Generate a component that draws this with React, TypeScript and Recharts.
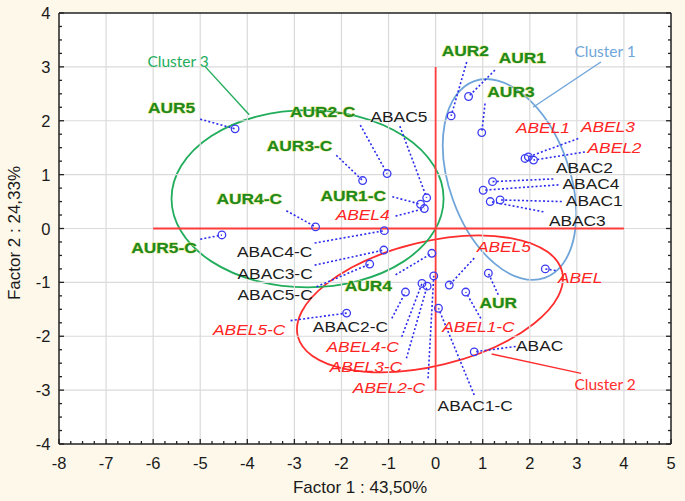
import React from "react";
import {
  ScatterChart,
  Scatter,
  XAxis,
  YAxis,
  CartesianGrid,
  ReferenceLine,
  ReferenceArea,
} from "recharts";

// ---- data ----
const sampleNames = [
  "AUR5", "AUR2-C", "AUR3-C", "ABAC5", "AUR1-C", "ABEL4", "AUR4-C", "AUR5-C",
  "ABAC4-C", "ABAC3-C", "ABAC5-C", "AUR4", "ABEL5-C", "ABAC2-C", "ABEL4-C", "ABEL3-C",
  "ABEL2-C", "ABAC1-C", "ABEL5", "ABEL1-C", "AUR", "ABEL", "ABAC", "AUR2",
  "AUR1", "AUR3", "ABEL1", "ABEL3", "ABEL2", "ABAC2", "ABAC4", "ABAC1", "ABAC3",
];
const factor1 = [
  -4.26, -1.03, -1.55, -0.19, -0.32, -0.24, -2.55, -4.54,
  -1.09, -1.10, -1.40, -0.08, -1.89, -0.64, -0.29, -0.18,
  -0.04, 0.06, 0.29, 0.64, 1.12, 2.33, 0.82, 0.33,
  0.70, 0.98, 1.90, 1.97, 2.08, 1.21, 1.01, 1.37, 1.16,
];
const factor2 = [
  1.85, 1.02, 0.89, 0.57, 0.45, 0.37, 0.03, -0.12,
  -0.04, -0.40, -0.66, -0.46, -1.57, -1.18, -1.02, -1.07,
  -0.88, -1.48, -1.05, -1.18, -0.83, -0.75, -2.29, 2.09,
  2.45, 1.78, 1.30, 1.33, 1.27, 0.87, 0.71, 0.53, 0.50,
];
// label anchor (data units)
const labelF1 = [
  -5.61, -2.40, -2.89, -0.78, -1.75, -1.55, -3.96, -5.77,
  -3.42, -3.41, -3.41, -1.43, -3.96, -1.81, -1.55, -1.48,
  -0.99, 0.84, 1.45, 0.91, 1.33, 3.07, 2.21, 0.63,
  1.84, 1.60, 2.28, 3.66, 3.80, 3.16, 3.30, 3.37, 3.01,
];
const labelF2 = [
  2.24, 2.18, 1.55, 2.09, 0.62, 0.26, 0.56, -0.35,
  -0.43, -0.83, -1.22, -1.06, -1.87, -1.82, -2.18, -2.55,
  -2.95, -3.29, -0.34, -1.82, -1.37, -0.91, -2.16, 3.31,
  3.18, 2.54, 1.88, 1.89, 1.50, 1.14, 0.84, 0.53, 0.16,
];
// leader line start (data units)
const leaderF1 = [
  -5.00, -1.60, -2.11, -0.76, -0.92, -0.85, -3.17, -5.00,
  -2.57, -2.57, -2.53, -0.85, -3.08, -0.93, -0.72, -0.62,
  -0.16, 0.82, 0.82, 0.96, 1.33, 2.55, 1.70, 0.66,
  1.26, 1.05, 1.90, 3.03, 3.17, 2.50, 2.61, 2.68, 2.29,
];
const leaderF2 = [
  2.03, 1.92, 1.36, 1.90, 0.59, 0.23, 0.33, -0.20,
  -0.27, -0.68, -1.08, -0.86, -1.71, -1.67, -2.01, -2.41,
  -2.78, -3.09, -0.55, -1.67, -1.23, -0.78, -2.19, 3.09,
  2.94, 2.32, 1.30, 1.67, 1.42, 0.92, 0.81, 0.50, 0.31,
];

const clusterNames = ["Cluster 1", "Cluster 2", "Cluster 3"];
const clusterCenterF1 = [1.57, -0.12, -2.72];
const clusterCenterF2 = [0.91, -1.40, 0.553];
const clusterRadiusF1 = [1.277, 2.89, 2.89];
const clusterRadiusF2 = [1.94, 1.15, 1.645];
const clusterTilt = [-19.7, -13.7, 0];
const clusterLabelF1 = [3.6, 3.6, -5.47];
const clusterLabelF2 = [3.3, -2.88, 3.11];
const clusterPointerFromF1 = [3.51, 3.09, -4.89];
const clusterPointerFromF2 = [3.09, -2.69, 3.0];
const clusterPointerToF1 = [2.07, 1.19, -3.96];
const clusterPointerToF2 = [2.25, -2.33, 2.11];

const xTicks = [-8, -7, -6, -5, -4, -3, -2, -1, 0, 1, 2, 3, 4, 5];
const yTicks = [-4, -3, -2, -1, 0, 1, 2, 3, 4];
const quarters = (t: number[]) => {
  const out: number[] = [];
  for (let i = 0; i < t.length - 1; i++) {
    for (let k = 0; k < 4; k++) out.push(t[i] + (k * (t[i + 1] - t[i])) / 4);
  }
  out.push(t[t.length - 1]);
  return out;
};
const xMinor = quarters(xTicks);
const yMinor = quarters(yTicks);

// ---- styles ----
const FONT = "'Liberation Sans', Arial, sans-serif";
const clusterColors: Record<string, string> = {
  "Cluster 1": "#6fa5d9",
  "Cluster 2": "#ff2d2d",
  "Cluster 3": "#22ad5c",
};
const axisRed = "#ff3b3b";
const pointBlue = "#3a3af2";
const gridGray = "#dadada";

const points = sampleNames.map((name, i) => ({ name, x: factor1[i], y: factor2[i] }));
const labels = sampleNames.map((name, i) => ({ name, x: labelF1[i], y: labelF2[i] }));
const clusterLabels = clusterNames.map((name, i) => ({
  name,
  x: clusterLabelF1[i],
  y: clusterLabelF2[i],
}));

const PointShape = (p: any) => (
  <circle cx={p.cx} cy={p.cy} r={3.8} fill="none" stroke={pointBlue} strokeWidth={1.3} />
);

const SampleLabel = (p: any) => {
  const name: string = p.payload?.name ?? "";
  let style: any = { fill: "#1c1c1c" };
  if (name.startsWith("AUR"))
    style = {
      fill: "#1f8a1c",
      fontWeight: "bold",
      stroke: "#d6dc70",
      strokeWidth: 0.9,
      paintOrder: "stroke",
    };
  else if (name.startsWith("ABEL")) style = { fill: "#ff2424", fontStyle: "italic" };
  return (
    <text
      transform={`translate(${p.cx},${p.cy}) scale(1.12,1)`}
      x={0}
      y={0}
      textAnchor="middle"
      dominantBaseline="central"
      fontFamily={FONT}
      fontSize={15.5}
      {...style}
    >
      {name}
    </text>
  );
};

const ClusterLabel = (p: any) => {
  const name: string = p.payload?.name ?? "";
  return (
    <text
      x={p.cx}
      y={p.cy}
      textAnchor="middle"
      dominantBaseline="central"
      fontFamily="Lato, 'Open Sans', sans-serif"
      fontSize={15.5}
      fill={clusterColors[name]}
    >
      {name}
    </text>
  );
};

const makeEllipse = (color: string, tilt: number) => (p: any) => {
  const cx = p.x + p.width / 2;
  const cy = p.y + p.height / 2;
  return (
    <ellipse
      cx={cx}
      cy={cy}
      rx={Math.abs(p.width) / 2}
      ry={Math.abs(p.height) / 2}
      fill="none"
      stroke={color}
      strokeWidth={1.8}
      transform={`rotate(${tilt}, ${cx}, ${cy})`}
    />
  );
};

const isMajor = (v: number) => Math.abs(v - Math.round(v)) < 1e-6;
const TICK_COLOR = "#222";

const BottomTick = (p: any) => {
  const v = p.payload.value;
  const major = isMajor(v);
  return (
    <g>
      <line x1={p.x} x2={p.x} y1={p.y} y2={p.y - (major ? 5 : 3)} stroke={TICK_COLOR} strokeWidth={1.3} />
      {major && (
        <text x={p.x} y={p.y + 19} textAnchor="middle" dominantBaseline="central" fontFamily={FONT} fontSize={16.5} fill="#1a1a1a">
          {v}
        </text>
      )}
    </g>
  );
};
const TopTick = (p: any) => {
  const major = isMajor(p.payload.value);
  return <line x1={p.x} x2={p.x} y1={p.y} y2={p.y + (major ? 5 : 3)} stroke={TICK_COLOR} strokeWidth={1.3} />;
};
const LeftTick = (p: any) => {
  const v = p.payload.value;
  const major = isMajor(v);
  return (
    <g>
      <line x1={p.x} x2={p.x + (major ? 5 : 3)} y1={p.y} y2={p.y} stroke={TICK_COLOR} strokeWidth={1.3} />
      {major && (
        <text x={p.x - 8.5} y={p.y} textAnchor="end" dominantBaseline="central" fontFamily={FONT} fontSize={16.5} fill="#1a1a1a">
          {v}
        </text>
      )}
    </g>
  );
};
const RightTick = (p: any) => {
  const major = isMajor(p.payload.value);
  return <line x1={p.x} x2={p.x - (major ? 5 : 3)} y1={p.y} y2={p.y} stroke={TICK_COLOR} strokeWidth={1.3} />;
};

const frame = { stroke: "#222", strokeWidth: 1.5 };

export default function App() {
  return (
    <div
      style={{
        position: "absolute",
        left: 0,
        top: 0,
        width: 685,
        height: 501,
        background: "#fdf8ea",
      }}
    >
      <ScatterChart width={685} height={501} margin={{ top: 12, right: 13, bottom: 7, left: 0 }}>
        <XAxis
          xAxisId={0}
          orientation="bottom"
          type="number"
          dataKey="x"
          domain={[-8, 5]}
          ticks={xMinor}
          interval={0}
          height={50}
          tickSize={0}
          tickMargin={0}
          tickLine={false}
          axisLine={frame}
          tick={BottomTick}
          allowDataOverflow
        />
        <YAxis
          yAxisId={0}
          orientation="left"
          type="number"
          dataKey="y"
          domain={[-4, 4]}
          ticks={yMinor}
          interval={0}
          width={59}
          tickSize={0}
          tickMargin={0}
          tickLine={false}
          axisLine={frame}
          tick={LeftTick}
          allowDataOverflow
        />
        <XAxis
          xAxisId="t"
          orientation="top"
          type="number"
          domain={[-8, 5]}
          ticks={xMinor}
          interval={0}
          height={1}
          tickSize={0}
          tickMargin={0}
          tickLine={false}
          axisLine={frame}
          tick={TopTick}
          allowDataOverflow
        />
        <YAxis
          yAxisId="r"
          orientation="right"
          type="number"
          domain={[-4, 4]}
          ticks={yMinor}
          interval={0}
          width={1}
          tickSize={0}
          tickMargin={0}
          tickLine={false}
          axisLine={frame}
          tick={RightTick}
          allowDataOverflow
        />
        <CartesianGrid horizontal={false} vertical={false} fill="#ffffff" />

        {xTicks.slice(1, -1).map((v) => (
          <ReferenceLine key={"gx" + v} x={v} stroke={gridGray} strokeWidth={1.2} />
        ))}
        {yTicks.slice(1, -1).map((v) => (
          <ReferenceLine key={"gy" + v} y={v} stroke={gridGray} strokeWidth={1.2} />
        ))}

        <ReferenceLine segment={[{ x: -6, y: 0 }, { x: 4, y: 0 }]} stroke={axisRed} strokeWidth={1.8} />
        <ReferenceLine segment={[{ x: 0, y: 3 }, { x: 0, y: -3 }]} stroke={axisRed} strokeWidth={1.8} />

        {sampleNames.map((n, i) => (
          <ReferenceLine
            key={"ld" + n}
            segment={[
              { x: leaderF1[i], y: leaderF2[i] },
              { x: factor1[i], y: factor2[i] },
            ]}
            stroke="#2b2bee"
            strokeWidth={1.6}
            strokeDasharray="2 2.2"
          />
        ))}

        <Scatter data={points} shape={PointShape} isAnimationActive={false} />
        <Scatter data={labels} shape={SampleLabel} isAnimationActive={false} />

        {clusterNames.map((n, i) => (
          <ReferenceArea
            key={"el" + n}
            x1={clusterCenterF1[i] - clusterRadiusF1[i]}
            x2={clusterCenterF1[i] + clusterRadiusF1[i]}
            y1={clusterCenterF2[i] - clusterRadiusF2[i]}
            y2={clusterCenterF2[i] + clusterRadiusF2[i]}
            shape={makeEllipse(clusterColors[n], clusterTilt[i])}
          />
        ))}
        {clusterNames.map((n, i) => (
          <ReferenceLine
            key={"cp" + n}
            segment={[
              { x: clusterPointerFromF1[i], y: clusterPointerFromF2[i] },
              { x: clusterPointerToF1[i], y: clusterPointerToF2[i] },
            ]}
            stroke={clusterColors[n]}
            strokeWidth={1.4}
          />
        ))}
        <Scatter data={clusterLabels} shape={ClusterLabel} isAnimationActive={false} />
      </ScatterChart>
      <div
        style={{
          position: "absolute",
          left: 0,
          top: 478,
          width: 720,
          textAlign: "center",
          fontFamily: FONT,
          fontSize: 17,
          color: "#1a1a1a",
          lineHeight: "20px",
        }}
      >
        Factor 1 : 43,50%
      </div>
      <div
        style={{
          position: "absolute",
          left: 14.5,
          top: 233,
          transform: "translate(-50%, -50%) rotate(-90deg)",
          whiteSpace: "nowrap",
          fontFamily: FONT,
          fontSize: 17,
          color: "#1a1a1a",
          lineHeight: "20px",
        }}
      >
        Factor 2 : 24,33%
      </div>
    </div>
  );
}
